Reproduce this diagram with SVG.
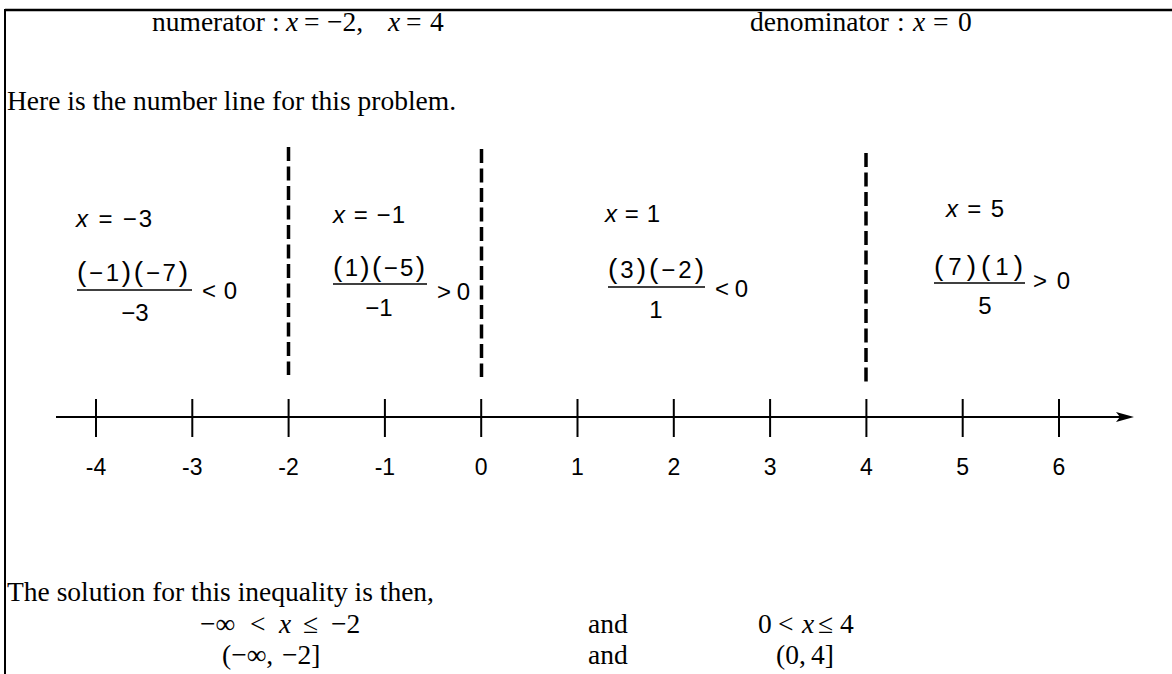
<svg xmlns="http://www.w3.org/2000/svg" width="1172" height="674" viewBox="0 0 1172 674">
<style>
.t{font-family:"Liberation Serif","Times New Roman",serif;font-size:27.5px;fill:#000}
.i{font-style:italic}
.m{font-family:"Liberation Sans",Arial,sans-serif;font-size:24px;fill:#000}
.mi{font-style:italic}
.p{font-size:28px}
.c{text-anchor:middle}
.lb{font-family:"Liberation Sans",Arial,sans-serif;font-size:23px;fill:#000;text-anchor:middle}
.dash{stroke:#000;stroke-width:3.5;stroke-dasharray:14 5.5;fill:none}
.ax{stroke:#000;stroke-width:2;fill:none}
.bar{stroke:#000;stroke-width:1.6}
</style>
<g id="frame">
<line x1="5" y1="10" x2="1172" y2="10" stroke="#000" stroke-width="2.5"/>
<line x1="5" y1="9" x2="5" y2="674" stroke="#000" stroke-width="2"/>
</g>
<g id="header">
<text class="t" y="31"><tspan x="152">numerator</tspan><tspan x="272">:</tspan><tspan x="286" class="i">x</tspan><tspan x="304">=</tspan><tspan x="327">−2,</tspan><tspan x="388" class="i">x</tspan><tspan x="406">=</tspan><tspan x="430">4</tspan></text>
<text class="t" y="31"><tspan x="750">denominator</tspan><tspan x="897">:</tspan><tspan x="913" class="i">x</tspan><tspan x="933">=</tspan><tspan x="958">0</tspan></text>
<text class="t" x="7" y="110">Here is the number line for this problem.</text>
</g>
<g id="connectors">
<line class="dash" x1="288.5" y1="147" x2="288.5" y2="375"/>
<line class="dash" x1="481.5" y1="149" x2="481.5" y2="377"/>
<line class="dash" x1="866" y1="153" x2="866" y2="386"/>
<line class="ax" x1="56" y1="417" x2="1122" y2="417"/>
<polygon points="1134,417 1116,412 1120,417 1116,422" fill="#000"/>
</g>
<g id="ticks">
<path class="ax" d="M96 399V437M192.3 399V437M288.6 399V437M384.9 399V437M481.2 399V437M577.5 399V437M673.8 399V437M770.1 399V437M866.4 399V437M962.7 399V437M1059 399V437"/>
<text class="lb" y="475"><tspan x="96">-4</tspan><tspan x="192.3">-3</tspan><tspan x="288.6">-2</tspan><tspan x="384.9">-1</tspan><tspan x="481.2">0</tspan><tspan x="577.5">1</tspan><tspan x="673.8">2</tspan><tspan x="770.1">3</tspan><tspan x="866.4">4</tspan><tspan x="962.7">5</tspan><tspan x="1059">6</tspan></text>
</g>
<g id="region-a">
<text class="m" x="76" y="227" textLength="76" lengthAdjust="spacing"><tspan class="mi">x</tspan> = −3</text>
<text class="m" x="77" y="281" textLength="111" lengthAdjust="spacing"><tspan class="p">(</tspan>−1<tspan class="p">)(</tspan>−7<tspan class="p">)</tspan></text>
<line class="bar" x1="77" y1="290" x2="192" y2="290"/>
<text class="m c" x="135" y="321">−3</text>
<text class="m" x="202" y="299" textLength="35" lengthAdjust="spacing">&lt; 0</text>
</g>
<g id="region-b">
<text class="m" x="333" y="223" textLength="72" lengthAdjust="spacing"><tspan class="mi">x</tspan> = −1</text>
<text class="m" x="333" y="276" textLength="92" lengthAdjust="spacing"><tspan class="p">(</tspan>1<tspan class="p">)(</tspan>−5<tspan class="p">)</tspan></text>
<line class="bar" x1="333" y1="284" x2="427" y2="284"/>
<text class="m c" x="379" y="316">−1</text>
<text class="m" x="437" y="300" textLength="33" lengthAdjust="spacing">&gt; 0</text>
</g>
<g id="region-c">
<text class="m" x="605" y="222" textLength="55" lengthAdjust="spacing"><tspan class="mi">x</tspan> = 1</text>
<text class="m" x="608" y="278" textLength="96" lengthAdjust="spacing"><tspan class="p">(</tspan>3<tspan class="p">)(</tspan>−2<tspan class="p">)</tspan></text>
<line class="bar" x1="608" y1="287" x2="705" y2="287"/>
<text class="m c" x="656" y="318">1</text>
<text class="m" x="715" y="297" textLength="33" lengthAdjust="spacing">&lt; 0</text>
</g>
<g id="region-d">
<text class="m" x="946" y="217" textLength="58" lengthAdjust="spacing"><tspan class="mi">x</tspan> = 5</text>
<text class="m" x="934" y="275" textLength="89" lengthAdjust="spacing"><tspan class="p">(</tspan>7<tspan class="p">)(</tspan>1<tspan class="p">)</tspan></text>
<line class="bar" x1="934" y1="283" x2="1025" y2="283"/>
<text class="m c" x="985" y="314">5</text>
<text class="m" x="1033" y="289" textLength="37" lengthAdjust="spacing">&gt; 0</text>
</g>
<g id="solution">
<text class="t" x="7" y="601">The solution for this inequality is then,</text>
<text class="t" y="633"><tspan x="200">−∞</tspan><tspan x="250">&lt;</tspan><tspan x="279" class="i">x</tspan><tspan x="303">≤</tspan><tspan x="331">−2</tspan></text>
<text class="t" x="588" y="633">and</text>
<text class="t" y="633"><tspan x="758">0</tspan><tspan x="778">&lt;</tspan><tspan x="802" class="i">x</tspan><tspan x="818">≤</tspan><tspan x="840">4</tspan></text>
<text class="t" y="664"><tspan x="222">(−∞,</tspan><tspan x="282">−2]</tspan></text>
<text class="t" x="588" y="664">and</text>
<text class="t" x="776" y="664">(0,</text><text class="t" x="811" y="664">4]</text>
</g>
</svg>
